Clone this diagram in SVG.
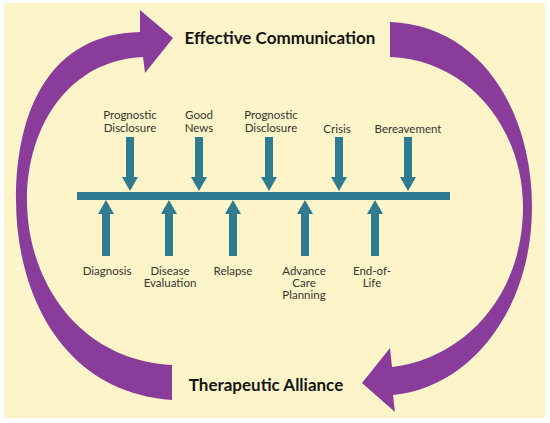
<svg xmlns="http://www.w3.org/2000/svg" width="550" height="423" viewBox="0 0 550 423">
<defs>
<style>
.t{font-family:Lato,"Open Sans",sans-serif;font-size:17px;font-weight:bold;fill:#141414;text-anchor:middle}
.l{font-family:Lato,"Open Sans",sans-serif;font-size:11.5px;fill:#36352f;text-anchor:middle}
.cyc{fill:#8a3c9b}
.teal{fill:#2f7b91}
</style>
<path id="dn" d="M-4,0 H4 V40 H8 L0,54 L-8,40 H-4 Z"/>
<path id="up" d="M-4,56 H4 V14 H8 L0,0 L-8,14 H-4 Z"/>
</defs>
<rect width="550" height="423" fill="#ffffff"/>
<rect x="4" y="3" width="541" height="415" fill="#fef4c9"/>
<g id="connectors">
<path class="cyc" d="M140,32 C50,34 16,110 16,200 C16,290 60,392 172,400 L172,365 C78,360 27,280 27,200 C27,125 70,60 143,57 L145,73 L173,38 L140,10 Z"/>
<path class="cyc" d="M390,22 C480,25 532,110 532,207 C532,310 470,388 393,395 L395,412 L362,383 L390,348 L392,367 C465,358 523,295 523,207 C523,130 470,60 390,57 Z"/>
<rect class="teal" x="77" y="192" width="373" height="8"/>
<g class="teal">
<use href="#dn" x="130" y="137"/>
<use href="#dn" x="199" y="137"/>
<use href="#dn" x="269" y="137"/>
<use href="#dn" x="339" y="137"/>
<use href="#dn" x="408" y="137"/>
<use href="#up" x="106" y="200"/>
<use href="#up" x="169" y="200"/>
<use href="#up" x="233" y="200"/>
<use href="#up" x="305" y="200"/>
<use href="#up" x="375" y="200"/>
</g>
</g>
<g id="effective-communication"><text class="t" x="280" y="44">Effective Communication</text></g>
<g id="therapeutic-alliance"><text class="t" x="266" y="391">Therapeutic Alliance</text></g>
<g id="prognostic-disclosure-1"><text class="l" x="130" y="119">Prognostic</text><text class="l" x="130" y="132">Disclosure</text></g>
<g id="good-news"><text class="l" x="199" y="119">Good</text><text class="l" x="199" y="132">News</text></g>
<g id="prognostic-disclosure-2"><text class="l" x="271" y="119">Prognostic</text><text class="l" x="271" y="132">Disclosure</text></g>
<g id="crisis"><text class="l" x="337" y="133">Crisis</text></g>
<g id="bereavement"><text class="l" x="408" y="133">Bereavement</text></g>
<g id="diagnosis"><text class="l" x="107" y="275">Diagnosis</text></g>
<g id="disease-evaluation"><text class="l" x="170" y="275">Disease</text><text class="l" x="170" y="287">Evaluation</text></g>
<g id="relapse"><text class="l" x="233" y="275">Relapse</text></g>
<g id="advance-care-planning"><text class="l" x="304" y="275">Advance</text><text class="l" x="304" y="287">Care</text><text class="l" x="304" y="299">Planning</text></g>
<g id="end-of-life"><text class="l" x="372" y="275">End-of-</text><text class="l" x="372" y="287">Life</text></g>
</svg>
